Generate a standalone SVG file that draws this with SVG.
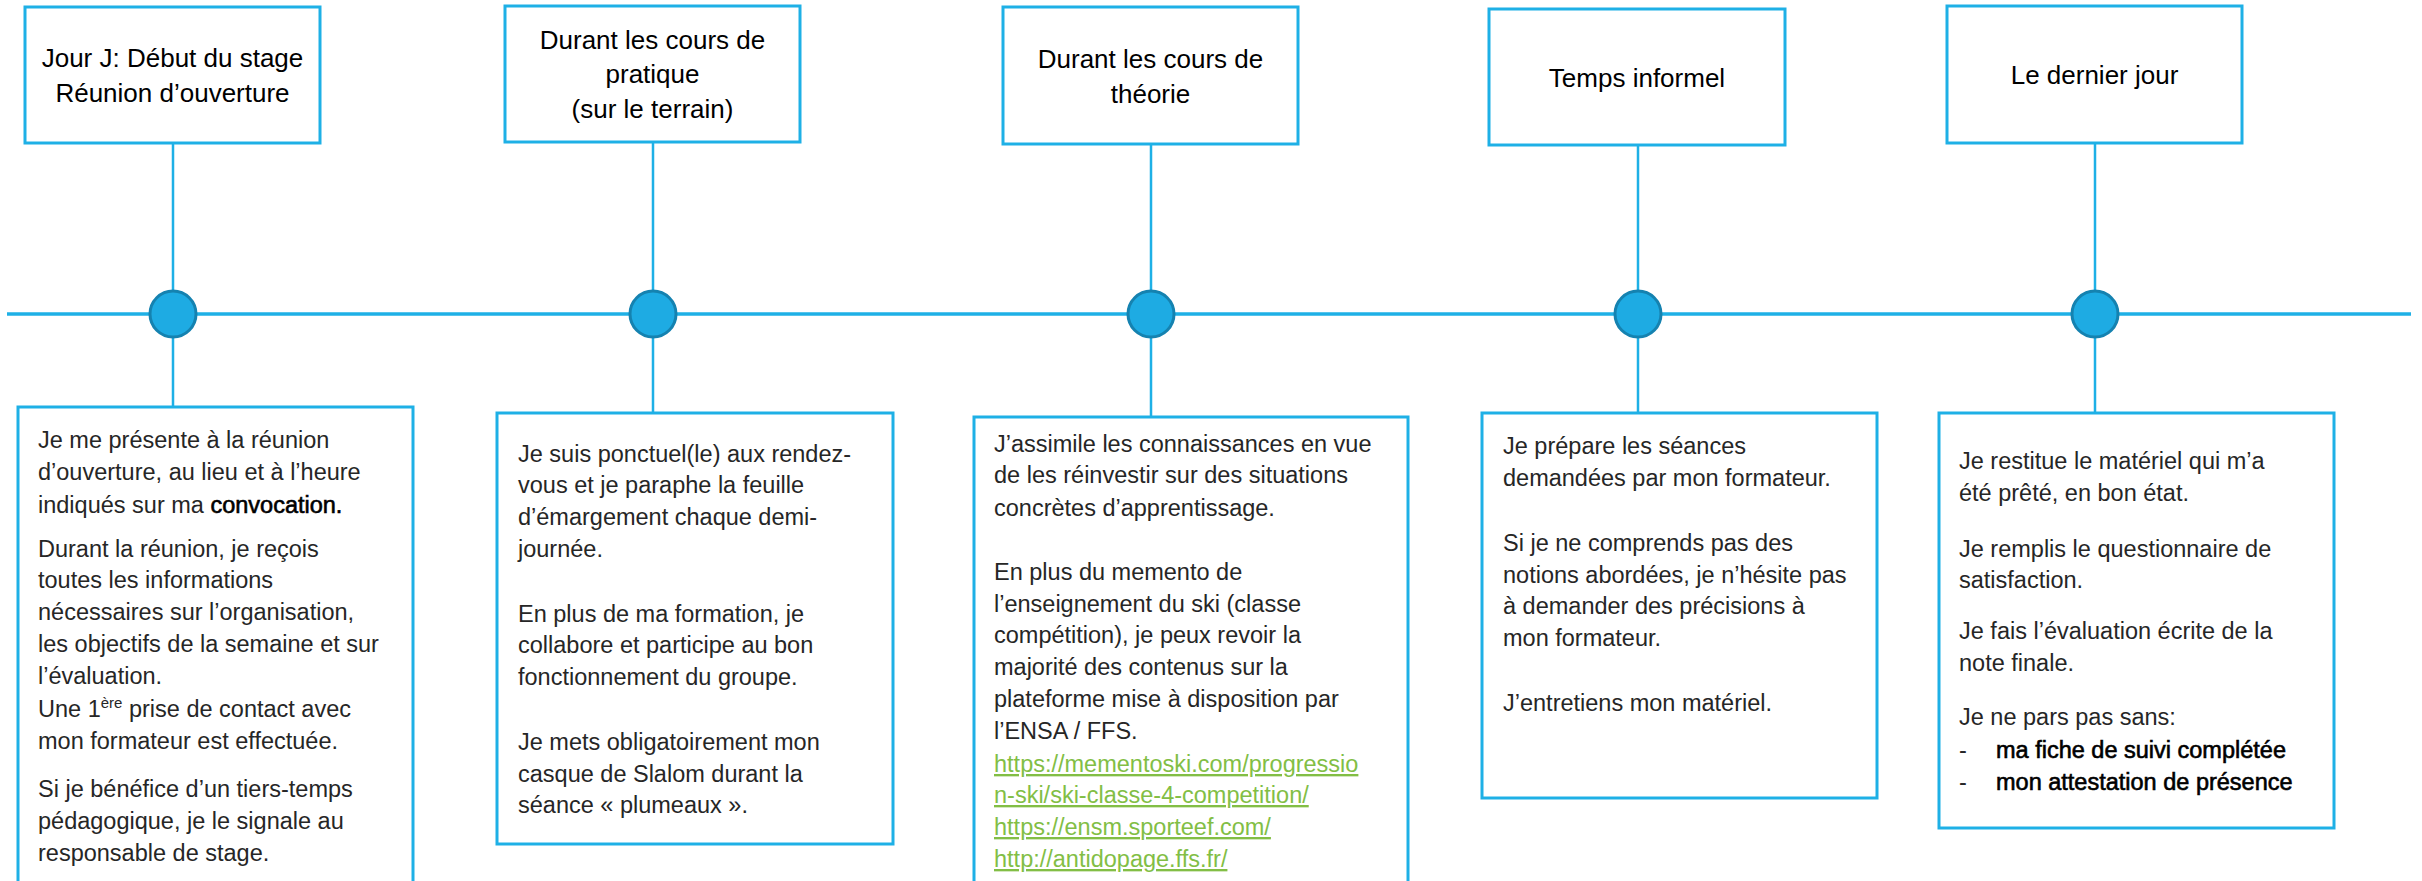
<svg xmlns="http://www.w3.org/2000/svg" width="2422" height="881" viewBox="0 0 2422 881">
<style>
.box{fill:#fff;stroke:#1EB0E6;stroke-width:3}
.conn{stroke:#1EB0E6;stroke-width:2.5;fill:none}
.axis{stroke:#1EB0E6;stroke-width:3.5;fill:none}
.dot{fill:#1EABE3;stroke:#1582B0;stroke-width:3}
.title{font-family:"Liberation Sans",Arial,sans-serif;font-size:26px;fill:#000;text-anchor:middle}
.body{font-family:"Liberation Sans",Arial,sans-serif;font-size:23.5px;fill:#262626}
.strong{fill:#000;stroke:#000;stroke-width:0.6}
.link{fill:#82BE45;text-decoration:underline}
</style>
<rect width="2422" height="881" fill="#fff"/>
<g id="connectors">
<line class="axis" x1="7" y1="314" x2="2411" y2="314"/>
<line class="conn" x1="173" y1="143" x2="173" y2="407"/>
<line class="conn" x1="653" y1="142" x2="653" y2="413"/>
<line class="conn" x1="1151" y1="144" x2="1151" y2="417"/>
<line class="conn" x1="1638" y1="145" x2="1638" y2="413"/>
<line class="conn" x1="2095" y1="143" x2="2095" y2="413"/>
</g>
<g id="dots">
<circle class="dot" cx="173" cy="314" r="23"/>
<circle class="dot" cx="653" cy="314" r="23"/>
<circle class="dot" cx="1151" cy="314" r="23"/>
<circle class="dot" cx="1638" cy="314" r="23"/>
<circle class="dot" cx="2095" cy="314" r="23"/>
</g>
<g id="title1">
<rect class="box" x="25" y="7" width="295" height="136"/>
<text class="title" x="172.5" y="67">Jour J: Début du stage</text>
<text class="title" x="172.5" y="102">Réunion d’ouverture</text>
</g>
<g id="title2">
<rect class="box" x="505" y="6" width="295" height="136"/>
<text class="title" x="652.5" y="49">Durant les cours de</text>
<text class="title" x="652.5" y="83">pratique</text>
<text class="title" x="652.5" y="118">(sur le terrain)</text>
</g>
<g id="title3">
<rect class="box" x="1003" y="7" width="295" height="137"/>
<text class="title" x="1150.5" y="68">Durant les cours de</text>
<text class="title" x="1150.5" y="103">théorie</text>
</g>
<g id="title4">
<rect class="box" x="1489" y="9" width="296" height="136"/>
<text class="title" x="1637" y="87">Temps informel</text>
</g>
<g id="title5">
<rect class="box" x="1947" y="6" width="295" height="137"/>
<text class="title" x="2094.5" y="84">Le dernier jour</text>
</g>
<g id="detail1">
<rect class="box" x="18" y="407" width="395" height="490"/>
<text class="body" x="38" y="448">Je me présente à la réunion</text>
<text class="body" x="38" y="480">d’ouverture, au lieu et à l’heure</text>
<text class="body" x="38" y="513">indiqués sur ma <tspan class="strong">convocation.</tspan></text>
<text class="body" x="38" y="557">Durant la réunion, je reçois</text>
<text class="body" x="38" y="588">toutes les informations</text>
<text class="body" x="38" y="620">nécessaires sur l’organisation,</text>
<text class="body" x="38" y="652">les objectifs de la semaine et sur</text>
<text class="body" x="38" y="684">l’évaluation.</text>
<text class="body" x="38" y="717">Une 1<tspan font-size="15" dy="-9">ère</tspan><tspan dy="9"> prise de contact avec</tspan></text>
<text class="body" x="38" y="749">mon formateur est effectuée.</text>
<text class="body" x="38" y="797">Si je bénéfice d’un tiers-temps</text>
<text class="body" x="38" y="829">pédagogique, je le signale au</text>
<text class="body" x="38" y="861">responsable de stage.</text>
</g>
<g id="detail2">
<rect class="box" x="497" y="413" width="396" height="431"/>
<text class="body" x="518" y="462">Je suis ponctuel(le) aux rendez-</text>
<text class="body" x="518" y="493">vous et je paraphe la feuille</text>
<text class="body" x="518" y="525">d’émargement chaque demi-</text>
<text class="body" x="518" y="557">journée.</text>
<text class="body" x="518" y="622">En plus de ma formation, je</text>
<text class="body" x="518" y="653">collabore et participe au bon</text>
<text class="body" x="518" y="685">fonctionnement du groupe.</text>
<text class="body" x="518" y="750">Je mets obligatoirement mon</text>
<text class="body" x="518" y="782">casque de Slalom durant la</text>
<text class="body" x="518" y="813">séance « plumeaux ».</text>
</g>
<g id="detail3">
<rect class="box" x="974" y="417" width="434" height="480"/>
<text class="body" x="994" y="452">J’assimile les connaissances en vue</text>
<text class="body" x="994" y="483">de les réinvestir sur des situations</text>
<text class="body" x="994" y="516">concrètes d’apprentissage.</text>
<text class="body" x="994" y="580">En plus du memento de</text>
<text class="body" x="994" y="612">l’enseignement du ski (classe</text>
<text class="body" x="994" y="643">compétition), je peux revoir la</text>
<text class="body" x="994" y="675">majorité des contenus sur la</text>
<text class="body" x="994" y="707">plateforme mise à disposition par</text>
<text class="body" x="994" y="739">l’ENSA / FFS.</text>
<text class="body link" x="994" y="772">https://mementoski.com/progressio</text>
<text class="body link" x="994" y="803">n-ski/ski-classe-4-competition/</text>
<text class="body link" x="994" y="835">https://ensm.sporteef.com/</text>
<text class="body link" x="994" y="867">http://antidopage.ffs.fr/</text>
</g>
<g id="detail4">
<rect class="box" x="1482" y="413" width="395" height="385"/>
<text class="body" x="1503" y="454">Je prépare les séances</text>
<text class="body" x="1503" y="486">demandées par mon formateur.</text>
<text class="body" x="1503" y="551">Si je ne comprends pas des</text>
<text class="body" x="1503" y="583">notions abordées, je n’hésite pas</text>
<text class="body" x="1503" y="614">à demander des précisions à</text>
<text class="body" x="1503" y="646">mon formateur.</text>
<text class="body" x="1503" y="711">J’entretiens mon matériel.</text>
</g>
<g id="detail5">
<rect class="box" x="1939" y="413" width="395" height="415"/>
<text class="body" x="1959" y="469">Je restitue le matériel qui m’a</text>
<text class="body" x="1959" y="501">été prêté, en bon état.</text>
<text class="body" x="1959" y="557">Je remplis le questionnaire de</text>
<text class="body" x="1959" y="588">satisfaction.</text>
<text class="body" x="1959" y="639">Je fais l’évaluation écrite de la</text>
<text class="body" x="1959" y="671">note finale.</text>
<text class="body" x="1959" y="725">Je ne pars pas sans:</text>
<text class="body" x="1959" y="758">-</text>
<text class="body strong" x="1996" y="758">ma fiche de suivi complétée</text>
<text class="body" x="1959" y="790">-</text>
<text class="body strong" x="1996" y="790">mon attestation de présence</text>
</g>
</svg>
